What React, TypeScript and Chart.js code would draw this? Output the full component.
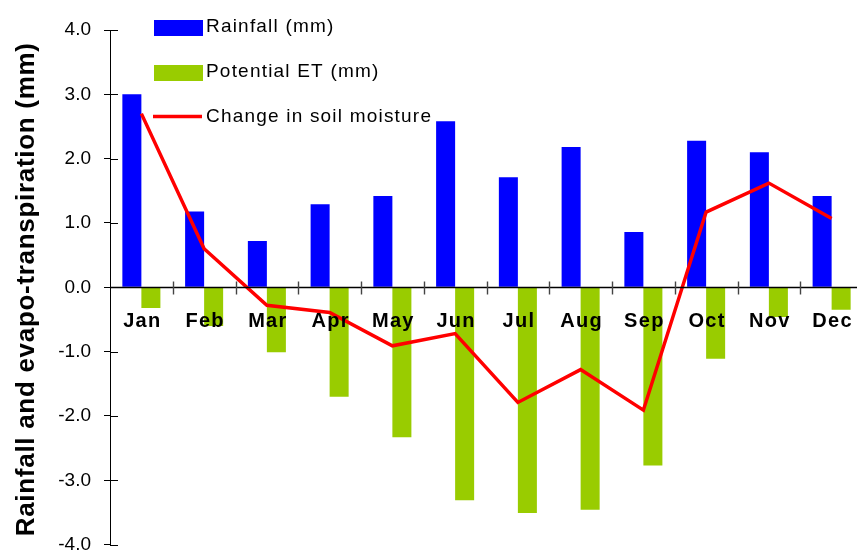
import React, { useEffect, useRef } from 'react';
import { Chart, registerables } from 'chart.js';

Chart.register(...registerables);

const categories = ['Jan', 'Feb', 'Mar', 'Apr', 'May', 'Jun', 'Jul', 'Aug', 'Sep', 'Oct', 'Nov', 'Dec'];
const rainfall = [3.0, 1.18, 0.72, 1.29, 1.42, 2.58, 1.71, 2.18, 0.86, 2.28, 2.1, 1.42];
const potentialET = [-0.32, -0.6, -1.01, -1.7, -2.33, -3.31, -3.51, -3.46, -2.77, -1.11, -0.46, -0.35];
const soilMoisture = [2.7, 0.6, -0.28, -0.39, -0.91, -0.72, -1.79, -1.28, -1.91, 1.17, 1.62, 1.07];
const yMin = -4;
const yMax = 4;
const yStep = 1;
const yTitle = 'Rainfall and evapo-transpiration (mm)';
const seriesNames = ['Rainfall (mm)', 'Potential ET (mm)', 'Change in soil moisture'];

const FAMILY = "'Liberation Sans', Arial, sans-serif";
const BLUE = '#0000FF';
const GREEN = '#99CC00';
const RED = '#FF0000';

const overlayPlugin = {
  id: 'overlay',
  afterDatasetsDraw(chart: any) {
    const { ctx, chartArea, scales } = chart;
    const x = scales.x;
    const y = scales.y;
    ctx.save();
    // inner parts of y ticks
    ctx.strokeStyle = '#000';
    ctx.lineWidth = 1;
    y.ticks.forEach((t: any) => {
      const py = Math.round(y.getPixelForValue(t.value)) + 0.5;
      ctx.beginPath();
      ctx.moveTo(chartArea.left, py);
      ctx.lineTo(chartArea.left + 8, py);
      ctx.stroke();
    });
    // zero line
    const y0 = Math.round(y.getPixelForValue(0)) + 0.5;
    ctx.lineWidth = 1.3;
    ctx.beginPath();
    ctx.moveTo(chartArea.left, y0);
    ctx.lineTo(chartArea.right, y0);
    ctx.stroke();
    // category boundary ticks
    ctx.strokeStyle = '#444';
    ctx.lineWidth = 1.4;
    const w = (x.right - x.left) / categories.length;
    for (let i = 1; i <= categories.length; i++) {
      const px = Math.round(x.left + i * w) + 0.5;
      ctx.beginPath();
      ctx.moveTo(px, y0 - 6);
      ctx.lineTo(px, y0 + 7);
      ctx.stroke();
    }
    // category labels
    ctx.fillStyle = '#000';
    ctx.font = `bold 20px ${FAMILY}`;
    (ctx as any).letterSpacing = '1.3px';
    ctx.textAlign = 'center';
    ctx.textBaseline = 'alphabetic';
    categories.forEach((c, i) => {
      const px = x.getPixelForValue(i);
      ctx.fillText(c, px + 1, y0 + 39);
    });
    (ctx as any).letterSpacing = '0px';
    ctx.restore();
  },
  afterDraw(chart: any) {
    const { ctx, scales } = chart;
    const y = scales.y;
    ctx.save();
    // y axis title
    ctx.fillStyle = '#000';
    ctx.font = `bold 26px ${FAMILY}`;
    (ctx as any).letterSpacing = '0.7px';
    ctx.textAlign = 'center';
    ctx.textBaseline = 'alphabetic';
    const cy = (y.top + y.bottom) / 2 + 2;
    ctx.translate(34, cy);
    ctx.rotate(-Math.PI / 2);
    ctx.fillText(yTitle, 0, 0);
    ctx.restore();

    // legend
    ctx.save();
    ctx.font = `19px ${FAMILY}`;
    (ctx as any).letterSpacing = '1.2px';
    ctx.textAlign = 'left';
    ctx.textBaseline = 'alphabetic';
    ctx.fillStyle = BLUE;
    ctx.fillRect(154, 20, 49, 16);
    ctx.fillStyle = GREEN;
    ctx.fillRect(154, 65, 49, 16);
    ctx.strokeStyle = RED;
    ctx.lineWidth = 3.5;
    ctx.beginPath();
    ctx.moveTo(153, 116.5);
    ctx.lineTo(202, 116.5);
    ctx.stroke();
    ctx.fillStyle = '#000';
    ctx.fillText(seriesNames[0], 206, 32);
    ctx.fillText(seriesNames[1], 206, 77);
    ctx.fillText(seriesNames[2], 206, 122);
    (ctx as any).letterSpacing = '0px';
    ctx.restore();
  },
};

export default function App() {
  const ref = useRef<HTMLCanvasElement | null>(null);

  useEffect(() => {
    if (!ref.current) return;
    const chart = new Chart(ref.current, {
      type: 'bar',
      data: {
        labels: categories,
        datasets: [
          {
            type: 'line',
            label: seriesNames[2],
            data: soilMoisture,
            borderColor: RED,
            backgroundColor: RED,
            borderWidth: 3.5,
            pointRadius: 0,
            tension: 0,
            order: 0,
          } as any,
          {
            type: 'bar',
            label: seriesNames[0],
            data: rainfall,
            backgroundColor: BLUE,
            categoryPercentage: 0.606,
            barPercentage: 1,
            order: 1,
          },
          {
            type: 'bar',
            label: seriesNames[1],
            data: potentialET,
            backgroundColor: GREEN,
            categoryPercentage: 0.606,
            barPercentage: 1,
            order: 1,
          },
        ],
      },
      options: {
        responsive: false,
        animation: false,
        devicePixelRatio: 1,
        layout: { padding: { top: 30, right: 7, bottom: 8, left: 0 } },
        plugins: {
          legend: { display: false },
          tooltip: { enabled: false },
        },
        scales: {
          x: {
            display: false,
            offset: true,
          },
          y: {
            min: yMin,
            max: yMax,
            ticks: {
              stepSize: yStep,
              callback: (v: any) => Number(v).toFixed(1),
              font: { family: FAMILY, size: 19 },
              color: '#000',
              padding: 13,
            },
            grid: {
              drawOnChartArea: false,
              drawTicks: true,
              tickLength: 6,
              color: '#000',
            },
            border: { display: true, color: '#000', width: 1 },
            afterFit: (scale: any) => {
              scale.width = 110;
            },
          },
        },
      },
      plugins: [overlayPlugin],
    });
    return () => chart.destroy();
  }, []);

  return (
    <div
      style={{
        position: 'fixed',
        left: 0,
        top: 0,
        width: 857,
        height: 554,
        overflow: 'hidden',
        background: '#fff',
      }}
    >
      <canvas ref={ref} width={870} height={569} style={{ display: 'block' }} />
    </div>
  );
}
